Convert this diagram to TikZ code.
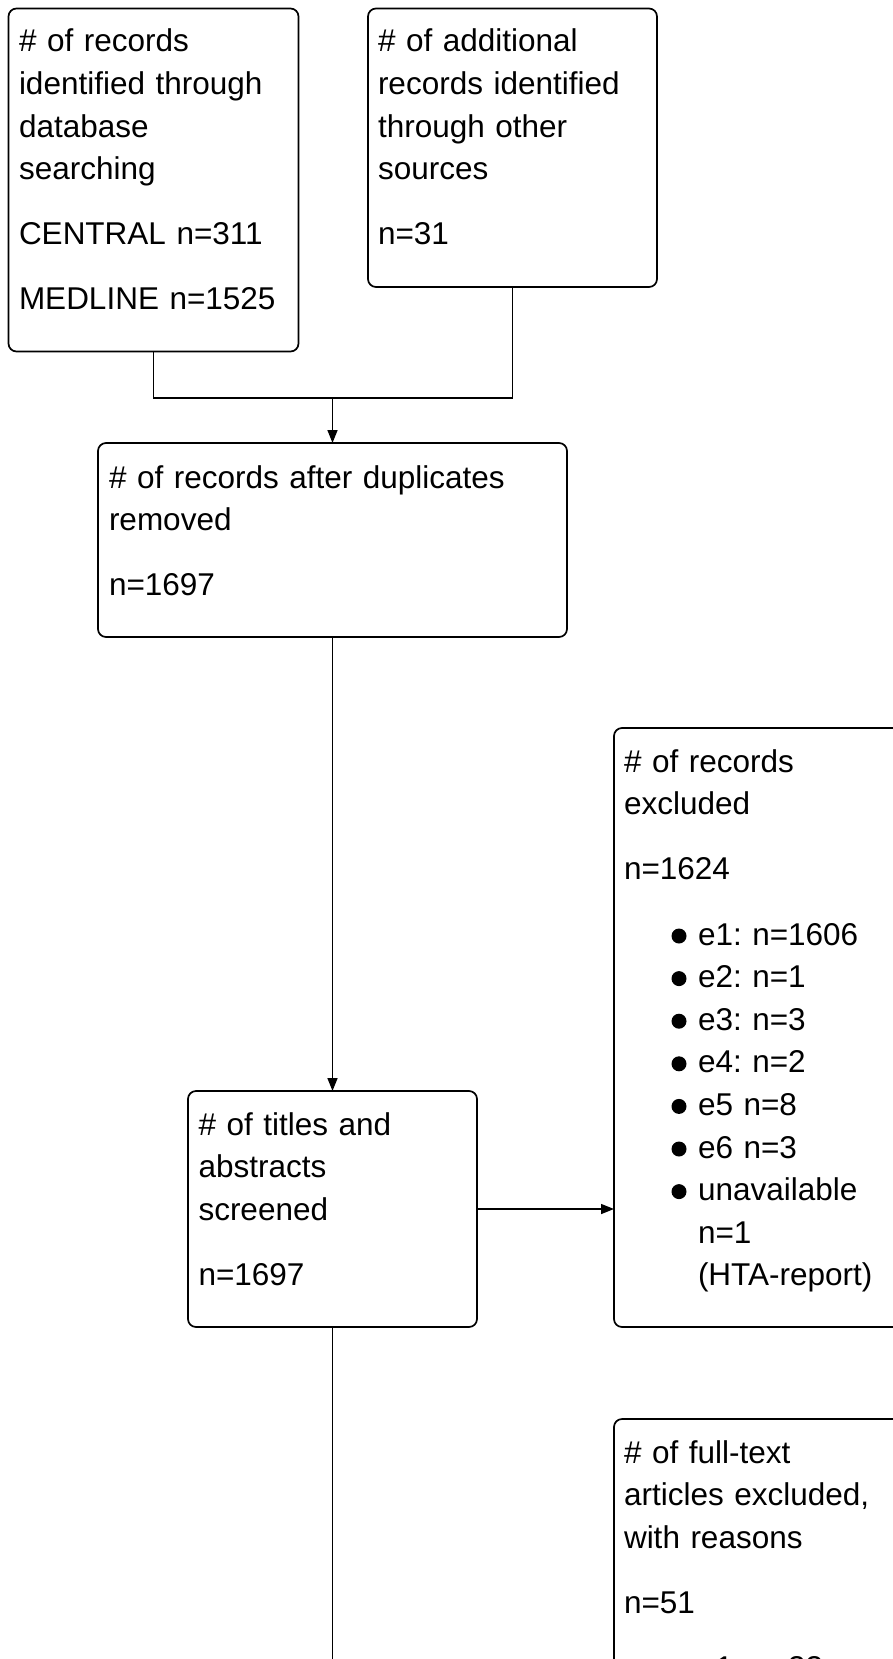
\documentclass[tikz,border=0pt]{standalone}
\usepackage{fontspec}
\setmainfont{Liberation Sans}
\usetikzlibrary{arrows.meta}
\frenchspacing
\tikzset{
  box/.style={draw=black, line width=1.7pt, rounded corners=8pt, anchor=north west, inner sep=0pt, outer sep=0pt},
  txt/.style={anchor=north west, inner sep=0pt, outer sep=0pt, align=left, text width=#1, font=\fontsize{31.5}{42.6}\selectfont\frenchspacing},
  conn/.style={line width=1.5pt},
  arr/.style={conn, -{Triangle[length=13pt,width=10pt]}},
  bul/.style={fill=black},
}
\newcommand\fst{\rule{0pt}{30pt}}
\begin{document}
\begin{tikzpicture}[x=1pt,y=-1pt]
\useasboundingbox (0,0) rectangle (893,1659);
\fill[white] (0,0) rectangle (893,1659);
\begin{scope}
\clip (0,0) rectangle (893,1659);
% boxes
\node[box, minimum width=290pt, minimum height=343pt] (db) at (8.5,8.5) {};
\node[box, minimum width=289pt, minimum height=278.5pt] (other) at (368,8.5) {};
\node[box, minimum width=469pt, minimum height=194pt] (dup) at (98,443) {};
\node[box, minimum width=289pt, minimum height=236pt] (screen) at (188,1091) {};
\node[box, minimum width=306pt, minimum height=599pt] (excl) at (614,728) {};
\node[box, minimum width=306pt, minimum height=381pt] (full) at (614,1419) {};
% texts
\node[txt=270pt] (tdb) at (19,22) {\fst\# of records\\identified through\\database\\searching\\[22.4pt]CENTRAL n=311\\[22.4pt]MEDLINE n=1525};
\node[txt=270pt] (tother) at (378,22) {\fst\# of additional\\records identified\\through other\\sources\\[22.4pt]n=31};
\node[txt=450pt] (tdup) at (109,458) {\fst\# of records after duplicates\\removed\\[22.4pt]n=1697};
\node[txt=270pt] (tscreen) at (198.5,1105) {\fst\# of titles and\\abstracts\\screened\\[22.4pt]n=1697};
\node[txt=270pt] (texcl) at (624,742) {\fst\# of records\\excluded\\[22.4pt]n=1624};
\node[txt=190pt] (tlist) at (698,915) {\fst e1: n=1606\\e2: n=1\\e3: n=3\\e4: n=2\\e5 n=8\\e6 n=3\\unavailable\\n=1\\(HTA-report)};
\foreach \b in {945,987.6,1030.2,1072.8,1115.4,1158,1200.6}
  \fill[bul] (679,\b-9) circle (7.5pt);
\node[txt=270pt] (tfull) at (624,1433) {\fst\# of full-text\\articles excluded,\\with reasons\\[22.4pt]n=51};
\node[txt=190pt] (tfull2) at (698,1648) {\fst e1: n=33};
\fill[bul] (679,1669) circle (7.5pt);
% connectors
\coordinate (jy) at (0,398);
\coordinate (j) at (dup.north |- jy);
\draw[conn] (db.south) |- (j);
\draw[conn] (other.south) |- (j);
\draw[arr] (j) -- (dup.north);
\draw[arr] (dup.south) -- (screen.north);
\draw[arr] (screen.east) -- (screen.east -| excl.west);
\path (screen.south) ++(0,450) coordinate (bot);
\draw[conn] (screen.south) -- (bot);
\end{scope}
\end{tikzpicture}
\end{document}
